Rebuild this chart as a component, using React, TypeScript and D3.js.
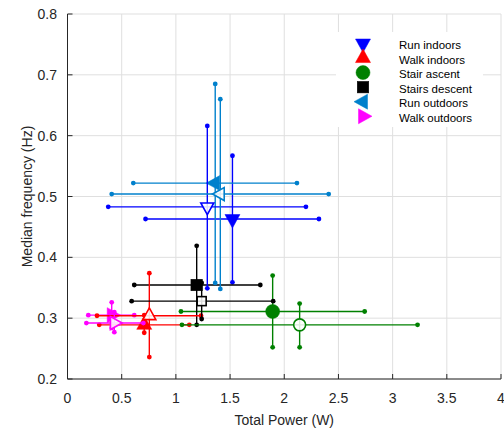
import React from "react";
import * as d3 from "d3";

const seriesNames = ["Run indoors", "Walk indoors", "Stair ascent", "Stairs descent", "Run outdoors", "Walk outdoors"];
const seriesColors = ["#0000FF", "#FF0000", "#008000", "#000000", "#0080CC", "#FF00FF"];
const seriesShapes = ["down", "up", "circle", "square", "left", "right"];

// filled markers: [x, y, xlo, xhi, ylo, yhi]
const filledPoints = [
  [1.522, 0.463, 0.72, 2.32, 0.359, 0.567],
  [0.708, 0.289, 0.293, 1.124, 0.276, 0.305],
  [1.893, 0.311, 1.047, 2.742, 0.252, 0.37],
  [1.192, 0.3545, 0.616, 1.779, 0.289, 0.419],
  [1.363, 0.522, 0.607, 2.117, 0.358, 0.685],
  [0.408, 0.305, 0.192, 0.616, 0.284, 0.326],
];
// open markers: [x, y, xlo, xhi, ylo, yhi]
const openPoints = [
  [1.29, 0.483, 0.376, 2.2, 0.349, 0.616],
  [0.755, 0.304, 0.272, 1.232, 0.236, 0.374],
  [2.142, 0.289, 1.056, 3.23, 0.252, 0.324],
  [1.238, 0.328, 0.592, 1.898, 0.2986, 0.358],
  [1.41, 0.504, 0.408, 2.41, 0.348, 0.66],
  [0.432, 0.292, 0.174, 0.7, 0.277, 0.31],
];

const xTicks = [0, 0.5, 1, 1.5, 2, 2.5, 3, 3.5, 4];
const yTicks = [0.2, 0.3, 0.4, 0.5, 0.6, 0.7, 0.8];

const W = 504;
const H = 431;
const FONT = "'Liberation Sans', Arial, Helvetica, sans-serif";
const AX = "#262626";

function markerPath(shape: string, size: number): string {
  const w = size;
  const h = size * 0.9;
  switch (shape) {
    case "down":
      return `M${-w / 2},${-h / 3}L${w / 2},${-h / 3}L0,${(2 * h) / 3}Z`;
    case "up":
      return `M${-w / 2},${h / 3}L${w / 2},${h / 3}L0,${(-2 * h) / 3}Z`;
    case "left":
      return `M${(-2 * h) / 3},0L${h / 3},${-w / 2}L${h / 3},${w / 2}Z`;
    case "right":
      return `M${(2 * h) / 3},0L${-h / 3},${-w / 2}L${-h / 3},${w / 2}Z`;
    default:
      return "";
  }
}

function Marker({ shape, color, filled, cx, cy, legend }: any) {
  const fill = filled ? color : "white";
  const fillOpacity = filled ? 1 : 0.85;
  const sw = filled ? 0.5 : 1.6;
  if (shape === "circle") {
    const r = filled ? 7 : 6;
    return <circle cx={cx} cy={cy} r={r} fill={fill} fillOpacity={fillOpacity} stroke={color} strokeWidth={sw} />;
  }
  if (shape === "square") {
    const s = filled ? 11.5 : 9;
    return <rect x={cx - s / 2} y={cy - s / 2} width={s} height={s} fill={fill} fillOpacity={fillOpacity} stroke={color} strokeWidth={sw} />;
  }
  const size = filled ? 15 : 13;
  return <path transform={`translate(${cx},${cy})`} d={markerPath(shape, size)} fill={fill} fillOpacity={fillOpacity} stroke={color} strokeWidth={sw} strokeLinejoin="miter" />;
}

function ErrorCross({ p, color, x, y }: any) {
  const [px, py, xlo, xhi, ylo, yhi] = p;
  const lw = 1.4;
  const r = 2.4;
  return (
    <g>
      <line x1={x(xlo)} x2={x(xhi)} y1={y(py)} y2={y(py)} stroke={color} strokeWidth={lw} />
      <line x1={x(px)} x2={x(px)} y1={y(ylo)} y2={y(yhi)} stroke={color} strokeWidth={lw} />
      <circle cx={x(xlo)} cy={y(py)} r={r} fill={color} />
      <circle cx={x(xhi)} cy={y(py)} r={r} fill={color} />
      <circle cx={x(px)} cy={y(ylo)} r={r} fill={color} />
      <circle cx={x(px)} cy={y(yhi)} r={r} fill={color} />
    </g>
  );
}

export default function App() {
  const x = d3.scaleLinear().domain([0, 4]).range([67.5, 501]);
  const y = d3.scaleLinear().domain([0.2, 0.8]).range([379, 14]);
  const [x0, x1] = x.range();
  const [y0, y1] = y.range();

  const legendX = 336;
  const legendY = 32;
  const legendW = 147;
  const legendH = 95;
  const rowY = (i: number) => 45 + i * 14.55;

  return (
    <svg width={W} height={H} style={{ position: "absolute", left: 0, top: 0, background: "white" }} fontFamily={FONT}>
      {/* grid */}
      {xTicks.map((t) => (
        <line key={"gx" + t} x1={x(t)} x2={x(t)} y1={y0} y2={y1} stroke="#dfdfdf" strokeWidth={1} />
      ))}
      {yTicks.map((t) => (
        <line key={"gy" + t} x1={x0} x2={x1} y1={y(t)} y2={y(t)} stroke="#dfdfdf" strokeWidth={1} />
      ))}

      {/* data: filled series then open series */}
      {filledPoints.map((p, i) => (
        <g key={"f" + i}>
          <ErrorCross p={p} color={seriesColors[i]} x={x} y={y} />
          <Marker shape={seriesShapes[i]} color={seriesColors[i]} filled={true} cx={x(p[0])} cy={y(p[1])} />
        </g>
      ))}
      {openPoints.map((p, i) => (
        <g key={"o" + i}>
          <ErrorCross p={p} color={seriesColors[i]} x={x} y={y} />
          <Marker shape={seriesShapes[i]} color={seriesColors[i]} filled={false} cx={x(p[0])} cy={y(p[1])} />
        </g>
      ))}

      {/* axes */}
      <line x1={x0} x2={x1} y1={y0} y2={y0} stroke={AX} strokeWidth={1} />
      <line x1={x0} x2={x0} y1={y0} y2={y1} stroke={AX} strokeWidth={1} />
      {xTicks.map((t) => (
        <g key={"xt" + t}>
          <line x1={x(t)} x2={x(t)} y1={y0} y2={y0 - 5} stroke={AX} strokeWidth={1} />
          <text x={x(t)} y={403} textAnchor="middle" fontSize={14} fill={AX}>
            {String(t)}
          </text>
        </g>
      ))}
      {yTicks.map((t) => (
        <g key={"yt" + t}>
          <line x1={x0} x2={x0 + 5} y1={y(t)} y2={y(t)} stroke={AX} strokeWidth={1} />
          <text x={57} y={y(t) + 5} textAnchor="end" fontSize={14} fill={AX}>
            {t.toFixed(1)}
          </text>
        </g>
      ))}
      <text x={(x0 + x1) / 2} y={425} textAnchor="middle" fontSize={14} fill={AX}>
        Total Power (W)
      </text>
      <text transform={`translate(32,${(y0 + y1) / 2}) rotate(-90)`} textAnchor="middle" fontSize={14} fill={AX}>
        Median frequency (Hz)
      </text>

      {/* legend */}
      <rect x={legendX} y={legendY} width={legendW} height={legendH} fill="white" />
      {seriesNames.map((name, i) => (
        <g key={"lg" + i}>
          <Marker shape={seriesShapes[i]} color={seriesColors[i]} filled={true} cx={363} cy={rowY(i) - 1.5} legend={true} />
          <text x={399} y={rowY(i) + 4} fontSize={11.5} fill="#000">
            {name}
          </text>
        </g>
      ))}
    </svg>
  );
}
